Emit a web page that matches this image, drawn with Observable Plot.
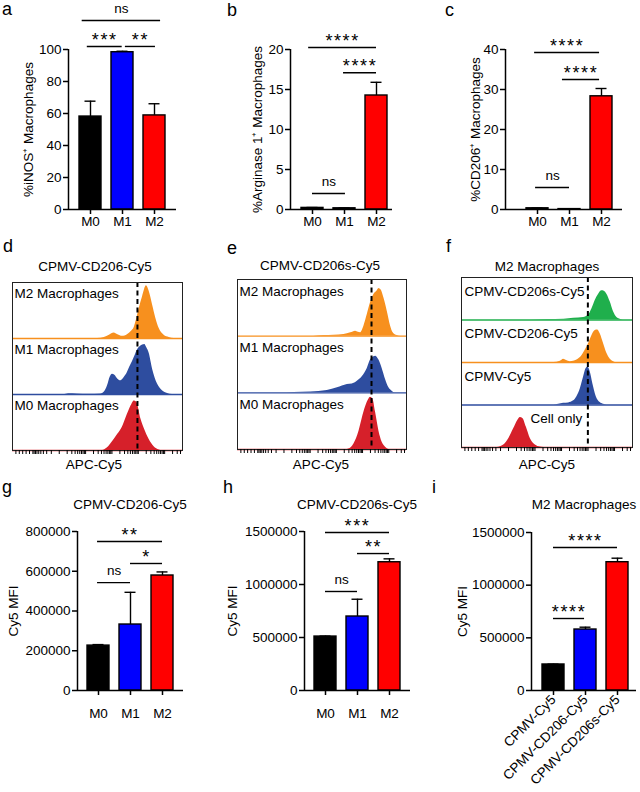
<!DOCTYPE html>
<html><head><meta charset="utf-8">
<script src="https://cdn.jsdelivr.net/npm/d3@7"></script>
<script src="https://cdn.jsdelivr.net/npm/@observablehq/plot@0.6"></script>
<style>
body{margin:0;background:#fff;}
#fig{position:relative;width:640px;height:792px;overflow:hidden;font-family:"Liberation Sans",Arial,sans-serif;color:#000;background:#fff;}
#fig svg{position:absolute;overflow:visible;}
.lbl{position:absolute;font-size:13.5px;white-space:nowrap;transform:translate(-50%,-50%);line-height:1;}
.let{position:absolute;font-size:18px;line-height:1;transform:translateY(-50%);}
</style></head><body><div id="fig"></div>
<script>
// ---------- DATA ----------
const groups = ["M0", "M1", "M2"];
const groupsI = ["CPMV-Cy5", "CPMV-CD206-Cy5", "CPMV-CD206s-Cy5"];
const barColors = ["#000000", "#0000ff", "#ff0000"];

const inosMean = [58.1, 98.3, 58.8];
const inosErr = [9.6, 0.6, 7.3];
const argMean = [0.2, 0.15, 14.25];
const argErr = [0.05, 0.03, 1.65];
const cd206Mean = [0.3, 0.1, 28.3];
const cd206Err = [0.05, 0.02, 1.95];
const mfiG = [226000, 332000, 578600];
const mfiGErr = [5000, 162000, 18000];
const mfiH = [509000, 698000, 1210000];
const mfiHErr = [4000, 163000, 32000];
const mfiI = [247000, 579000, 1218000];
const mfiIErr = [3000, 22000, 38000];

// significance brackets: [x1, x2, y, label]
const sigA = [[-0.26, 2.19, 118.1, "ns"], [-0.1, 0.99, 101.9, "***"], [1.09, 2.03, 101.9, "**"]];
const sigB = [[-0.12, 2.0, 20.25, "****"], [0.97, 2.0, 17.1, "****"], [0, 1.03, 2.0, "ns"]];
const sigC = [[-0.09, 1.94, 39.25, "****"], [0.78, 1.94, 32.5, "****"], [-0.06, 1.0, 5.5, "ns"]];
const sigG = [[-0.03, 2.0, 749600, "**"], [1.0, 2.0, 639000, "*"], [-0.03, 1.0, 543000, "ns"]];
const sigH = [[0, 2.0, 1490600, "***"], [1.0, 2.0, 1292000, "**"], [0, 1.0, 934000, "ns"]];
const sigI = [[0, 2.0, 1357600, "****"], [0, 0.97, 683500, "****"]];

// flow histograms: [APC-Cy5 position (0-100 across box), height as fraction of lane]
const dM2 = [[0,0],[50,0],[54,0.02],[57,0.06],[59.8,0.10],[62,0.07],[64.7,0.04],[67.6,0.07],[70,0.13],[71.6,0.2],[73,0.35],[74.5,0.54],[76.5,0.76],[78.8,0.96],[80.4,0.86],[82.4,0.61],[84.3,0.37],[86.3,0.18],[89.2,0.06],[92.2,0.02],[95.1,0],[100,0]];
const dM1 = [[0,0],[30,0],[33,0.015],[38,0.01],[45,0.005],[52,0.01],[53.9,0.04],[55.9,0.16],[57.5,0.32],[58.8,0.37],[60.2,0.35],[62,0.28],[63.7,0.25],[65.5,0.3],[67.6,0.40],[69,0.5],[70.6,0.60],[72,0.7],[73.5,0.81],[75,0.87],[76.5,0.9],[77.8,0.91],[79,0.85],[80.4,0.75],[82.4,0.46],[85.3,0.19],[88.2,0.07],[91.2,0.02],[94.1,0],[100,0]];
const dM0 = [[0,0],[53,0],[55.5,0.04],[57.8,0.12],[61.8,0.29],[64.7,0.43],[67.6,0.66],[70.2,0.84],[71.6,0.9],[73.1,0.88],[75.5,0.58],[77.5,0.40],[80.4,0.2],[83.3,0.07],[86.3,0.01],[88,0],[100,0]];
const eM2 = [[0,0],[45,0],[51.2,0.01],[63,0.03],[67,0.06],[69.9,0.09],[71.5,0.07],[72.8,0.06],[74.8,0.18],[76.8,0.39],[78.7,0.6],[80.7,0.75],[82.7,0.82],[83.7,0.86],[85,0.83],[86.6,0.69],[88.6,0.45],[90.6,0.18],[92.1,0.06],[94.5,0.01],[96.5,0],[100,0]];
const eM1 = [[0,0],[25,0],[33.5,0.005],[43.3,0.015],[53.1,0.04],[59.1,0.09],[65,0.15],[67.9,0.16],[70.9,0.21],[73.8,0.29],[76.8,0.44],[78.7,0.59],[80.7,0.65],[81.7,0.66],[83.7,0.59],[85.6,0.44],[87.6,0.24],[89.6,0.09],[91.5,0.03],[93.5,0],[100,0]];
const eM0 = [[0,0],[64,0],[65.9,0.01],[68.9,0.10],[71.9,0.33],[73.8,0.56],[75.8,0.77],[77.8,0.91],[78.7,0.94],[80.1,0.91],[81.7,0.67],[83.7,0.33],[85.6,0.13],[87.6,0.04],[89.6,0],[100,0]];
const fCD206s = [[0,0],[40,0],[50,0.01],[60,0.02],[65.6,0.04],[71.4,0.06],[74.3,0.12],[76.3,0.27],[78.2,0.47],[80.2,0.62],[82.1,0.70],[83.5,0.69],[85,0.62],[87,0.43],[88.9,0.2],[90.9,0.06],[92.8,0.02],[94.7,0],[100,0]];
const fCD206 = [[0,0],[53.9,0],[57.8,0.03],[59.7,0.08],[61.5,0.05],[63.6,0.02],[67.5,0.06],[70.4,0.16],[72.4,0.30],[74.3,0.45],[76.3,0.65],[78.2,0.77],[79.6,0.78],[81.1,0.69],[83.1,0.45],[85,0.22],[87,0.08],[88.9,0.02],[90.9,0],[100,0]];
const fCy5 = [[0,0],[53.9,0],[59.7,0.04],[62.6,0.05],[65.6,0.10],[67.5,0.20],[69.5,0.39],[71.4,0.67],[72.8,0.87],[73.9,0.91],[75.3,0.79],[76.8,0.51],[78.8,0.20],[81.1,0.06],[83.1,0.02],[85,0],[100,0]];
const fCell = [[0,0],[20.8,0],[24.7,0.06],[27.6,0.21],[30.5,0.45],[32.9,0.65],[34.4,0.72],[36,0.69],[37.9,0.49],[40.3,0.21],[43.2,0.06],[46.1,0.01],[48.1,0],[100,0]];

const flowColors = {orange: "#F7901E", blue: "#2E4D9F", red: "#D6202A", green: "#1FAF4C"};
const flowDecades = [27.5, 43, 58.5, 74, 89.5];
const flowDecadeWidth = 15.5;

// ---------- HELPERS ----------
const FONT = "Liberation Sans, Arial, sans-serif";
const fig = document.getElementById("fig");

function place(svg, x, y) {
  svg.style.left = x + "px";
  svg.style.top = y + "px";
  fig.appendChild(svg);
}
function label(text, x, y, cls = "lbl") {
  const d = document.createElement("div");
  d.className = cls;
  d.textContent = text;
  d.style.left = x + "px";
  d.style.top = y + "px";
  fig.appendChild(d);
}

function barPanel(o) {
  const step = (o.c2 - o.c0) / 2;
  const xMin = -(o.c0 - o.axisX) / step;
  const xMax = 2 + (o.axisEnd - o.c2) / step;
  const data = o.cats.map((c, i) => ({i, c, v: o.mean[i], e: o.err[i], color: barColors[i]}));
  const hw = 11 / step, cw = 5.5 / step;
  const sigText = o.sig.filter(d => d[3] === "ns");
  const sigStar = o.sig.filter(d => d[3] !== "ns");
  const svg = Plot.plot({
    width: o.cell.w, height: o.cell.h,
    marginLeft: o.axisX - o.cell.x, marginRight: o.cell.x + o.cell.w - o.axisEnd,
    marginTop: o.yTopPx - o.cell.y, marginBottom: o.cell.y + o.cell.h - o.yZeroPx,
    x: {domain: [xMin, xMax]},
    y: {domain: [0, o.yMax]},
    style: {fontFamily: FONT, fontSize: "13.5px", color: "black", background: "transparent", overflow: "visible"},
    marks: [
      Plot.rectY(data, {x1: d => d.i - hw, x2: d => d.i + hw, y1: () => 0, y2: "v", fill: d => d.color, stroke: "black", strokeWidth: 1.4}),
      Plot.ruleX(data, {x: "i", y1: "v", y2: d => d.v + d.e, strokeWidth: 1.4}),
      Plot.ruleY(data, {y: d => d.v + d.e, x1: d => d.i - cw, x2: d => d.i + cw, strokeWidth: 1.4}),
      Plot.ruleX([xMin], {y1: () => 0, y2: () => o.yMax, strokeWidth: 1.5}),
      Plot.ruleY([0], {strokeWidth: 1.5}),
      Plot.axisY({ticks: o.ticks, tickSize: 5, tickPadding: 2, strokeWidth: 1.5, fontSize: 13.5, label: null, tickFormat: d => String(d)}),
      Plot.axisX({ticks: [0, 1, 2], tickFormat: i => o.cats[i], tickSize: 5, tickPadding: o.xPad, strokeWidth: 1.5, fontSize: 13.5, label: null, tickRotate: o.rotate || 0}),
      Plot.ruleY(o.sig, {y: d => d[2], x1: d => d[0], x2: d => d[1], strokeWidth: 1.4}),
      Plot.text(sigText, {x: d => (d[0] + d[1]) / 2, y: d => d[2], text: d => d[3], dy: -11.5, fontSize: 13.5}),
      Plot.text(sigStar, {x: d => (d[0] + d[1]) / 2, y: d => d[2], text: d => d[3], dy: -6.5, fontSize: 18}),
      Plot.text([o.ylabel], {frameAnchor: "left", textAnchor: "middle", rotate: -90, dx: o.ylabelDx, fontSize: 13.5})
    ]
  });
  place(svg, o.cell.x, o.cell.y);
}

function flowTicks() {
  const t = [];
  for (const D of flowDecades) {
    t.push(D);
    for (let k = 2; k <= 9; k++) { const v = D + Math.log10(k) * flowDecadeWidth; if (v < 100) t.push(v); }
  }
  for (let k = 2; k <= 9; k++) t.push(flowDecades[0] - Math.log10(k) * flowDecadeWidth);
  t.push(flowDecades[0] - flowDecadeWidth);
  for (let k = 1; k <= 5; k++) t.push(k * 2);
  return t;
}

function flowPanel(o) {
  const n = o.lanes.length;
  const marks = [];
  o.lanes.forEach((ln, k) => {
    const base = n - 1 - k;
    marks.push(Plot.areaY(ln.curve, {x: d => d[0], y1: () => base, y2: d => base + d[1] * 0.98, fill: ln.color, curve: "monotone-x"}));
    marks.push(Plot.ruleY([base], {stroke: ln.color, strokeWidth: 1.3}));
    marks.push(Plot.text([ln.label], {x: () => ln.lx, y: () => base + o.labelFrac, text: d => d, textAnchor: "start", fontSize: 13.5}));
  });
  marks.push(Plot.ruleX([o.dash], {strokeDasharray: "5,3.5", strokeWidth: 2}));
  marks.push(Plot.frame({stroke: "#222", strokeWidth: 1}));
  marks.push(Plot.axisX({ticks: flowTicks(), tickSize: 4, tickFormat: () => "", strokeWidth: 1, label: null}));
  const svg = Plot.plot({
    width: o.cell.w, height: o.cell.h,
    marginLeft: o.box.x1 - o.cell.x, marginRight: o.cell.x + o.cell.w - o.box.x2,
    marginTop: o.box.y1 - o.cell.y, marginBottom: o.cell.y + o.cell.h - o.box.y2,
    x: {domain: [0, 100]},
    y: {domain: [0, n], axis: null},
    style: {fontFamily: FONT, fontSize: "13.5px", color: "black", background: "transparent", overflow: "visible"},
    marks
  });
  place(svg, o.cell.x, o.cell.y);
}

// ---------- ROW 1 ----------
barPanel({cell: {x: 0, y: 0, w: 210, h: 230}, axisX: 68, axisEnd: 176, c0: 90, c2: 154, yTopPx: 49, yZeroPx: 209,
  yMax: 100, ticks: [0, 20, 40, 60, 80, 100], cats: groups, mean: inosMean, err: inosErr, sig: sigA,
  ylabel: "%iNOS⁺ Macrophages", ylabelDx: -40, xPad: 2});
barPanel({cell: {x: 210, y: 0, w: 210, h: 230}, axisX: 290, axisEnd: 392, c0: 312, c2: 376, yTopPx: 49, yZeroPx: 209,
  yMax: 20, ticks: [0, 5, 10, 15, 20], cats: groups, mean: argMean, err: argErr, sig: sigB,
  ylabel: "%Arginase 1⁺ Macrophages", ylabelDx: -33, xPad: 2});
barPanel({cell: {x: 420, y: 0, w: 220, h: 230}, axisX: 505, axisEnd: 622, c0: 537, c2: 601, yTopPx: 49, yZeroPx: 209,
  yMax: 40, ticks: [0, 10, 20, 30, 40], cats: groups, mean: cd206Mean, err: cd206Err, sig: sigC,
  ylabel: "%CD206⁺ Macrophages", ylabelDx: -30, xPad: 2});

// ---------- ROW 2 ----------
flowPanel({cell: {x: 0, y: 230, w: 210, h: 250}, box: {x1: 12, x2: 182, y1: 282, y2: 450}, dash: 73.5, labelFrac: 0.8,
  lanes: [
    {curve: dM2, color: flowColors.orange, label: "M2 Macrophages", lx: 1.2},
    {curve: dM1, color: flowColors.blue, label: "M1 Macrophages", lx: 1.2},
    {curve: dM0, color: flowColors.red, label: "M0 Macrophages", lx: 1.2}
  ]});
flowPanel({cell: {x: 210, y: 230, w: 210, h: 250}, box: {x1: 237, x2: 406, y1: 279, y2: 449}, dash: 79.3, labelFrac: 0.79,
  lanes: [
    {curve: eM2, color: flowColors.orange, label: "M2 Macrophages", lx: 1.2},
    {curve: eM1, color: flowColors.blue, label: "M1 Macrophages", lx: 1.2},
    {curve: eM0, color: flowColors.red, label: "M0 Macrophages", lx: 1.2}
  ]});
flowPanel({cell: {x: 420, y: 230, w: 220, h: 250}, box: {x1: 461, x2: 632, y1: 277, y2: 447}, dash: 73.9, labelFrac: 0.67,
  lanes: [
    {curve: fCD206s, color: flowColors.green, label: "CPMV-CD206s-Cy5", lx: 1.8},
    {curve: fCD206, color: flowColors.orange, label: "CPMV-CD206-Cy5", lx: 1.8},
    {curve: fCy5, color: flowColors.blue, label: "CPMV-Cy5", lx: 1.8},
    {curve: fCell, color: flowColors.red, label: "Cell only", lx: 40.4}
  ]});

// ---------- ROW 3 ----------
barPanel({cell: {x: 0, y: 480, w: 210, h: 312}, axisX: 77, axisEnd: 183, c0: 98, c2: 162, yTopPx: 531, yZeroPx: 690,
  yMax: 800000, ticks: [0, 200000, 400000, 600000, 800000], cats: groups, mean: mfiG, err: mfiGErr, sig: sigG,
  ylabel: "Cy5 MFI", ylabelDx: -64, xPad: 13});
barPanel({cell: {x: 210, y: 480, w: 210, h: 312}, axisX: 304, axisEnd: 410, c0: 325, c2: 389, yTopPx: 531, yZeroPx: 690,
  yMax: 1500000, ticks: [0, 500000, 1000000, 1500000], cats: groups, mean: mfiH, err: mfiHErr, sig: sigH,
  ylabel: "Cy5 MFI", ylabelDx: -72, xPad: 13});
barPanel({cell: {x: 420, y: 480, w: 220, h: 312}, axisX: 531, axisEnd: 636, c0: 553, c2: 617, yTopPx: 532, yZeroPx: 690,
  yMax: 1500000, ticks: [0, 500000, 1000000, 1500000], cats: groupsI, mean: mfiI, err: mfiIErr, sig: sigI,
  ylabel: "Cy5 MFI", ylabelDx: -69, xPad: 2, rotate: -45});

// star spacing
fig.querySelectorAll("text").forEach(t => { if (/^\*+$/.test(t.textContent)) t.setAttribute("letter-spacing", "1.6"); });

// ---------- TEXT LABELS ----------
label("CPMV-CD206-Cy5", 95, 267);
label("CPMV-CD206s-Cy5", 320, 266);
label("M2 Macrophages", 547, 267);
label("APC-Cy5", 94, 465);
label("APC-Cy5", 321, 465);
label("APC-Cy5", 547, 465);
label("CPMV-CD206-Cy5", 130, 505);
label("CPMV-CD206s-Cy5", 357, 505);
label("M2 Macrophages", 584, 505);

label("a", 2, 9, "let");
label("b", 227, 10, "let");
label("c", 445, 10, "let");
label("d", 3, 246, "let");
label("e", 227, 248, "let");
label("f", 446, 246, "let");
label("g", 2, 487, "let");
label("h", 223, 487, "let");
label("i", 432, 487, "let");
</script></body></html>
